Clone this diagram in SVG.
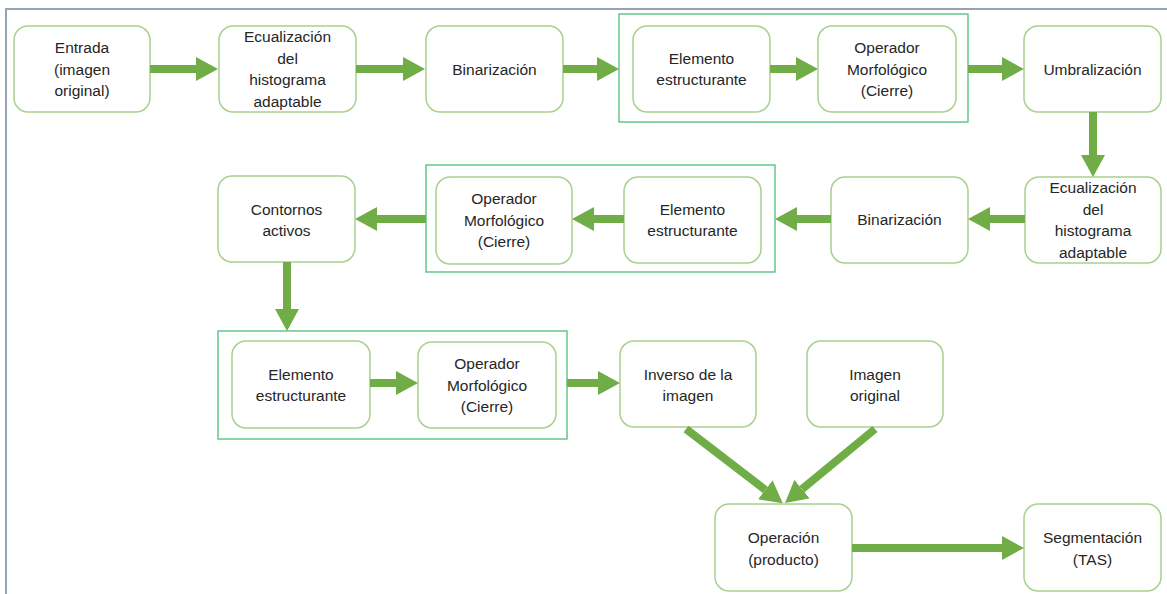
<svg xmlns="http://www.w3.org/2000/svg" width="1167" height="594" viewBox="0 0 1167 594">
<defs>
<marker id="ah" markerUnits="userSpaceOnUse" markerWidth="22" markerHeight="24" refX="0" refY="12" orient="auto" viewBox="0 0 22 24">
<path d="M0,0 L22,12 L0,24 z" fill="#70ad47"/>
</marker>
<style>
.node rect{fill:#fff;stroke:#a9d18e;stroke-width:1.5}
.grp{fill:none;stroke:#4dbe7b;stroke-width:1.3}
text{font-family:"Liberation Sans",Arial,sans-serif;font-size:15.5px;fill:#262626;text-anchor:middle}
#connectors line{stroke:#70ad47;stroke-width:8;marker-end:url(#ah)}
</style>
</defs>
<rect width="1167" height="594" fill="#fff"/>
<path d="M6,594 L6,9 L1167,9" fill="none" stroke="#98a2b5" stroke-width="2"/>

<rect class="grp" x="619" y="14" width="349" height="108"/>
<rect class="grp" x="426" y="165" width="349" height="107"/>
<rect class="grp" x="218" y="331" width="349" height="108"/>

<g id="n1" class="node"><rect x="14" y="26" width="136" height="86" rx="14"/>
<text x="82" y="53">Entrada</text><text x="82" y="74.5">(imagen</text><text x="82" y="96">original)</text></g>
<g id="n2" class="node"><rect x="219" y="26" width="137" height="86" rx="14"/>
<text x="287.5" y="42">Ecualización</text><text x="287.5" y="63.5">del</text><text x="287.5" y="85">histograma</text><text x="287.5" y="106.5">adaptable</text></g>
<g id="n3" class="node"><rect x="426" y="26" width="137" height="86" rx="14"/>
<text x="494.5" y="74.5">Binarización</text></g>
<g id="n4" class="node"><rect x="633" y="26" width="137" height="86" rx="14"/>
<text x="701.5" y="63.5">Elemento</text><text x="701.5" y="85">estructurante</text></g>
<g id="n5" class="node"><rect x="818" y="26" width="138" height="86" rx="14"/>
<text x="887" y="53">Operador</text><text x="887" y="74.5">Morfológico</text><text x="887" y="96">(Cierre)</text></g>
<g id="n6" class="node"><rect x="1024" y="26" width="137" height="86" rx="14"/>
<text x="1092.5" y="74.5">Umbralización</text></g>

<g id="n7" class="node"><rect x="1025" y="177" width="136" height="86" rx="14"/>
<text x="1093" y="193">Ecualización</text><text x="1093" y="214.5">del</text><text x="1093" y="236">histograma</text><text x="1093" y="257.5">adaptable</text></g>
<g id="n8" class="node"><rect x="831" y="177" width="137" height="86" rx="14"/>
<text x="899.5" y="225">Binarización</text></g>
<g id="n9" class="node"><rect x="624" y="177" width="137" height="86" rx="14"/>
<text x="692.5" y="214.5">Elemento</text><text x="692.5" y="236">estructurante</text></g>
<g id="n10" class="node"><rect x="436" y="177" width="136" height="87" rx="14"/>
<text x="504" y="204">Operador</text><text x="504" y="225.5">Morfológico</text><text x="504" y="247">(Cierre)</text></g>
<g id="n11" class="node"><rect x="218" y="176" width="137" height="86" rx="14"/>
<text x="286.5" y="214.5">Contornos</text><text x="286.5" y="236">activos</text></g>

<g id="n12" class="node"><rect x="232" y="341" width="138" height="87" rx="14"/>
<text x="301" y="379.5">Elemento</text><text x="301" y="401">estructurante</text></g>
<g id="n13" class="node"><rect x="418" y="342" width="138" height="86" rx="14"/>
<text x="487" y="369">Operador</text><text x="487" y="390.5">Morfológico</text><text x="487" y="412">(Cierre)</text></g>
<g id="n14" class="node"><rect x="620" y="341" width="136" height="86" rx="14"/>
<text x="688" y="379.5">Inverso de la</text><text x="688" y="401">imagen</text></g>
<g id="n15" class="node"><rect x="807" y="341" width="136" height="86" rx="14"/>
<text x="875" y="379.5">Imagen</text><text x="875" y="401">original</text></g>

<g id="n16" class="node"><rect x="715" y="504" width="137" height="87" rx="14"/>
<text x="783.5" y="543">Operación</text><text x="783.5" y="564.5">(producto)</text></g>
<g id="n17" class="node"><rect x="1024" y="504" width="137" height="87" rx="14"/>
<text x="1092.5" y="543">Segmentación</text><text x="1092.5" y="564.5">(TAS)</text></g>

<g id="connectors">
<line x1="150" y1="69" x2="196" y2="69"/>
<line x1="356" y1="69" x2="403" y2="69"/>
<line x1="563" y1="69" x2="597" y2="69"/>
<line x1="770" y1="69" x2="796" y2="69"/>
<line x1="968" y1="69" x2="1002" y2="69"/>
<line x1="1093" y1="112" x2="1093" y2="155"/>
<line x1="1025" y1="219" x2="990" y2="219"/>
<line x1="831" y1="219" x2="797" y2="219"/>
<line x1="624" y1="219" x2="594" y2="219"/>
<line x1="426" y1="219" x2="377" y2="219"/>
<line x1="287" y1="262" x2="287" y2="309"/>
<line x1="370" y1="383" x2="396" y2="383"/>
<line x1="567" y1="383" x2="598" y2="383"/>
<line x1="686" y1="429" x2="765.3" y2="489.8"/>
<line x1="875" y1="429" x2="802" y2="489.1"/>
<line x1="852" y1="548" x2="1002" y2="548"/>
</g>
</svg>
